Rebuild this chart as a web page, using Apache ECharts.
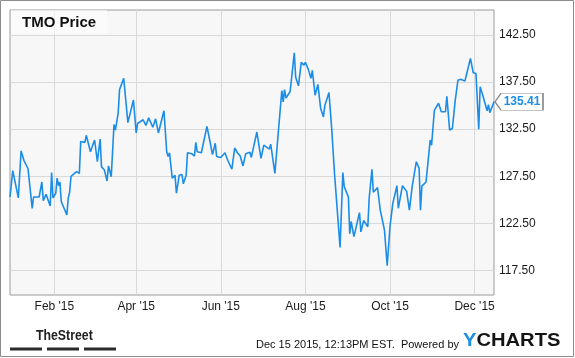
<!DOCTYPE html>
<html><head><meta charset="utf-8">
<script src="https://cdn.jsdelivr.net/npm/echarts@6.0.0/dist/echarts.min.js"></script>
<style>html,body{margin:0;padding:0;background:#fff}#c{width:575px;height:358px}</style>
</head><body><div id="c"></div>
<script>
const chartTitle = 'TMO Price';
const footerText = 'Dec 15 2015, 12:13PM EST.  Powered by';
const dates = [
'2014-12-31','2015-01-02','2015-01-06','2015-01-08','2015-01-10','2015-01-13','2015-01-16','2015-01-17','2015-01-21','2015-01-23',
'2015-01-24','2015-01-26','2015-01-29','2015-01-30','2015-01-31','2015-02-02','2015-02-03','2015-02-04','2015-02-05','2015-02-06',
'2015-02-10','2015-02-11','2015-02-12','2015-02-13','2015-02-17','2015-02-19','2015-02-20','2015-02-23','2015-02-24','2015-02-27',
'2015-03-02','2015-03-04','2015-03-06','2015-03-07','2015-03-09','2015-03-11','2015-03-12','2015-03-14','2015-03-16','2015-03-17',
'2015-03-19','2015-03-20','2015-03-23','2015-03-26','2015-03-30','2015-04-01','2015-04-02','2015-04-06','2015-04-08','2015-04-10',
'2015-04-13','2015-04-14','2015-04-15','2015-04-17','2015-04-21','2015-04-23','2015-04-24','2015-04-25','2015-04-27','2015-04-29',
'2015-04-30','2015-05-02','2015-05-04','2015-05-05','2015-05-07','2015-05-08','2015-05-11','2015-05-13','2015-05-14','2015-05-15',
'2015-05-18','2015-05-22','2015-05-24','2015-05-26','2015-05-28','2015-05-29','2015-06-01','2015-06-04','2015-06-05','2015-06-06',
'2015-06-09','2015-06-11','2015-06-13','2015-06-15','2015-06-17','2015-06-19','2015-06-22','2015-06-23','2015-06-27','2015-06-30',
'2015-07-02','2015-07-04','2015-07-06','2015-07-07','2015-07-10','2015-07-12','2015-07-13','2015-07-15','2015-07-16','2015-07-17',
'2015-07-18','2015-07-21','2015-07-24','2015-07-25','2015-07-27','2015-07-29','2015-07-31','2015-08-01','2015-08-03','2015-08-05',
'2015-08-06','2015-08-08','2015-08-10','2015-08-12','2015-08-13','2015-08-14','2015-08-15','2015-08-18','2015-08-20','2015-08-22',
'2015-08-26','2015-08-28','2015-08-29','2015-09-01','2015-09-02','2015-09-03','2015-09-04','2015-09-05','2015-09-09','2015-09-10',
'2015-09-12','2015-09-15','2015-09-16','2015-09-18','2015-09-19','2015-09-22','2015-09-24','2015-09-27','2015-09-29','2015-10-01',
'2015-10-02','2015-10-03','2015-10-06','2015-10-07','2015-10-10','2015-10-13','2015-10-15','2015-10-17','2015-10-20','2015-10-22',
'2015-10-23','2015-10-24','2015-10-27','2015-10-28','2015-10-30','2015-10-31','2015-11-02','2015-11-03','2015-11-05','2015-11-07',
'2015-11-10','2015-11-11','2015-11-13','2015-11-15','2015-11-17','2015-11-18','2015-11-19','2015-11-21','2015-11-24','2015-11-28',
'2015-11-30','2015-12-02','2015-12-04','2015-12-05','2015-12-07','2015-12-08','2015-12-10','2015-12-11','2015-12-12','2015-12-15'
];
const prices = [
125.3,128.1,125.2,130.2,129.2,128.3,124.1,125.3,125.3,126.9,
124.9,125.6,124.35,127.9,125.2,125.7,127.3,126.5,126.9,124.8,
123.4,125.2,125.8,127.5,128.0,127.8,131.2,131.1,131.85,130.1,
131.35,129.05,131.45,128.5,128.2,127.0,128.6,127.45,133.0,132.4,
134.2,136.7,137.9,133.2,135.6,132.1,133.1,133.5,132.9,133.7,
132.7,132.7,133.6,132.1,134.46,130.1,129.6,130.0,127.3,127.6,
125.7,127.6,127.7,126.7,127.6,130.0,129.9,129.65,131.1,130.1,
130.0,132.8,131.35,129.8,131.0,129.6,129.5,130.0,129.6,129.2,
128.25,130.5,130.0,129.65,128.6,129.9,130.05,129.5,132.2,129.4,
130.8,130.6,130.4,130.9,127.8,131.35,133.1,136.6,135.4,136.7,
135.8,136.5,140.6,138.0,137.1,139.6,139.3,139.6,138.9,137.9,
138.75,136.1,137.25,134.7,134.6,133.8,135.0,136.4,132.5,127.8,
119.95,127.9,126.4,125.3,121.4,122.7,122.7,121.1,123.65,121.6,
122.8,122.15,125.2,128.25,125.8,126.3,123.9,121.8,118.0,122.15,
122.2,124.6,126.5,124.1,126.5,125.9,123.9,126.4,129.05,128.35,
123.9,126.45,126.9,126.9,131.35,130.8,134.5,134.4,135.25,134.35,
134.35,136.0,132.4,132.6,135.5,135.5,137.7,137.8,137.6,140.0,
138.5,138.4,132.5,137.0,136.05,136.1,134.45,135.1,134.25,135.41
];
const xTickDates = ['2015-02-01','2015-04-01','2015-06-01','2015-08-01','2015-10-01','2015-12-01'];
const yTickValues = [117.5,122.5,127.5,132.5,137.5,142.5];
const monthNames = ['Jan','Feb','Mar','Apr','May','Jun','Jul','Aug','Sep','Oct','Nov','Dec'];

const FONT = '"Liberation Sans", Arial, Helvetica, sans-serif';
const BLUE = '#1b8de6';
const last = dates.length - 1;
const toTs = s => { const p = s.split('-').map(Number); return new Date(p[0], p[1] - 1, p[2]).getTime(); };
const xTickTs = xTickDates.map(toTs);

const chart = echarts.init(document.getElementById('c'), null, {renderer: 'canvas'});
chart.setOption({
  animation: false,
  backgroundColor: '#ffffff',
  title: {
    text: chartTitle, left: 11, top: 10, padding: [5, 11, 4, 11],
    backgroundColor: 'rgba(255,255,255,0.55)',
    textStyle: {fontFamily: FONT, fontSize: 15, fontWeight: 'bold', color: '#111', lineHeight: 15}
  },
  grid: {left: 10, top: 10, width: 484, height: 285, show: true, backgroundColor: '#f7f7f7',
         borderColor: '#999', borderWidth: 1, containLabel: false, outerBoundsMode: 'none'},
  xAxis: {
    type: 'value', min: toTs('2014-12-31'), max: toTs('2015-12-15'), scale: true,
    axisLine: {show: false}, axisTick: {show: false, customValues: xTickTs},
    splitLine: {show: true, lineStyle: {color: '#d9d9d9', width: 1}},
    axisLabel: {customValues: xTickTs, margin: 6, color: '#1a1a1a', fontFamily: FONT, fontSize: 12,
      formatter: function (v) { const d = new Date(v); return monthNames[d.getMonth()] + " '" + String(d.getFullYear()).slice(2); }}
  },
  yAxis: {
    type: 'value', position: 'right', min: 114.9, max: 145.15, scale: true,
    axisLine: {show: false}, axisTick: {show: false, customValues: yTickValues},
    splitLine: {show: true, lineStyle: {color: '#d9d9d9', width: 1}},
    axisLabel: {customValues: yTickValues, margin: 5, color: '#1a1a1a', fontFamily: FONT, fontSize: 12,
      formatter: function (v) { return Number(v).toFixed(2); }}
  },
  series: [{
    type: 'line', data: dates.map((d, i) => [toTs(d), prices[i]]), showSymbol: false, symbol: 'none',
    lineStyle: {color: BLUE, width: 1.6}, silent: true,
    markPoint: {
      silent: true,
      symbol: 'path://M0,8.5 L6,0 L48,0 L48,17 L6,17 Z', symbolSize: [48, 17], symbolOffset: [25, 0],
      itemStyle: {color: '#fff', borderColor: '#8a8a8a', borderWidth: 1},
      label: {show: true, position: 'inside', offset: [3, 0], color: BLUE, fontFamily: FONT, fontSize: 12, fontWeight: 'bold',
        formatter: function (p) { return Number(p.value).toFixed(2); }},
      data: [{coord: [toTs(dates[last]), prices[last]], value: prices[last]}]
    }
  }],
  graphic: [
    {type: 'rect', silent: true, shape: {x: 0.5, y: 0.5, width: 573, height: 356}, style: {fill: 'none', stroke: '#8c8c8c', lineWidth: 1}},
    {type: 'text', silent: true, x: 36, y: 335.5, scaleX: 0.82, style: {text: 'TheStreet', fontFamily: FONT, fontSize: 15, fontWeight: 'bold', fill: '#222', verticalAlign: 'middle'}},
    {type: 'rect', silent: true, shape: {x: 10, y: 347.5, width: 32, height: 3}, style: {fill: '#2a2a2a'}},
    {type: 'rect', silent: true, shape: {x: 47, y: 347.5, width: 32, height: 3}, style: {fill: '#2a2a2a'}},
    {type: 'rect', silent: true, shape: {x: 84, y: 347.5, width: 32, height: 3}, style: {fill: '#2a2a2a'}},
    {type: 'text', silent: true, x: 459, y: 345, style: {text: footerText, fontFamily: FONT, fontSize: 11, fill: '#111', align: 'right', verticalAlign: 'middle'}},
    {type: 'text', silent: true, x: 463, y: 341.5, scaleX: 1.12, style: {text: '{y|Y}{c|CHARTS}', verticalAlign: 'middle',
      rich: {y: {fill: '#1a8fe3', fontFamily: FONT, fontSize: 18, fontWeight: 'bold'}, c: {fill: '#141414', fontFamily: FONT, fontSize: 18, fontWeight: 'bold'}}}}
  ]
});
</script>
</body></html>
